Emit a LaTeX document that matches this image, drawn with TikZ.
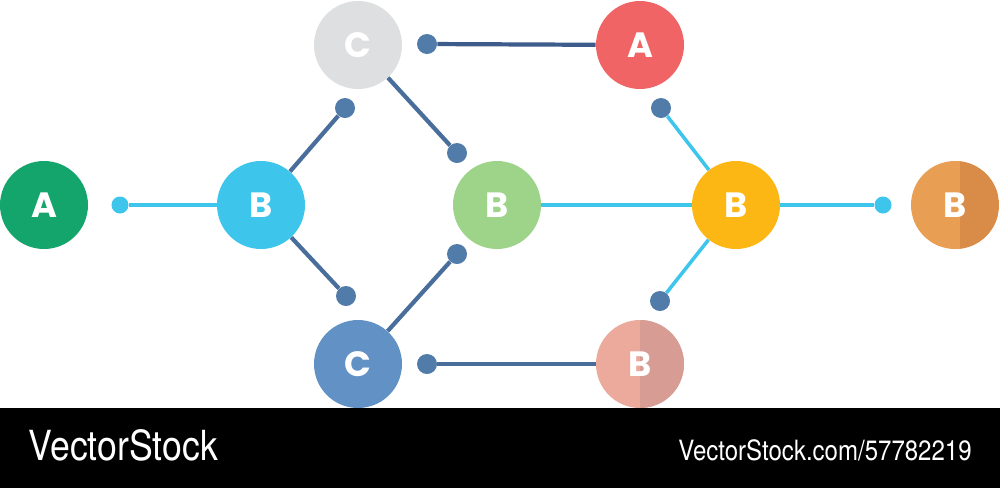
\documentclass[tikz,border=0pt]{standalone}
\usepackage{fontspec}
\newfontfamily\lettfont{Poppins}
\newfontfamily\bandfont[FakeStretch=0.86]{TeX Gyre Heros}
\definecolor{greenA}{HTML}{13A56C}
\definecolor{cyanB}{HTML}{3DC5EC}
\definecolor{greyC}{HTML}{DDDFE0}
\definecolor{greenB}{HTML}{9DD48A}
\definecolor{redA}{HTML}{F06466}
\definecolor{yellowB}{HTML}{FDB714}
\definecolor{orangeB}{HTML}{E89E53}
\definecolor{orangeD}{HTML}{D98B48}
\definecolor{blueC}{HTML}{6291C5}
\definecolor{pinkB}{HTML}{EBAA9C}
\definecolor{pinkD}{HTML}{D79D95}
\definecolor{darkline}{HTML}{4A6E9B}
\definecolor{topline}{HTML}{3D5C8C}
\definecolor{dotblue}{HTML}{517BA8}
\tikzset{
  ball/.style={circle, minimum size=1.76cm, inner sep=0pt, text=white,
    font=\lettfont\bfseries\fontsize{20}{20}\selectfont},
  dot/.style={circle, fill=#1, minimum size=0.4cm, inner sep=0pt},
  smalldot/.style={circle, fill=#1, minimum size=0.34cm, inner sep=0pt}
}
\begin{document}
\begin{tikzpicture}[x=0.02cm, y=-0.02cm]
  \useasboundingbox (0,0) rectangle (1000,488);
  \fill[white] (0,0) rectangle (1000,408);
  \fill[black] (0,408) rectangle (1000,488);
  % circles
  \node[ball, fill=greenA] (a1) at (44,205) {A};
  \node[ball, fill=cyanB] (b1) at (261,205) {B};
  \node[ball, fill=greyC] (c1) at (358,45) {C};
  \node[ball, fill=blueC] (c2) at (358,364) {C};
  \node[ball, fill=greenB] (b2) at (497,205) {B};
  \node[ball, fill=redA] (a2) at (640,45) {A};
  \node[ball, fill=yellowB] (b3) at (736,205) {B};
  \node[ball, fill=pinkB, path picture={\fill[pinkD] (path picture bounding box.north) rectangle (path picture bounding box.south east);}] (b4) at (640,364) {B};
  \node[ball, fill=orangeB, path picture={\fill[orangeD] ([xshift=3]path picture bounding box.north) rectangle (path picture bounding box.south east);}] (b5) at (955,205) {B};
  % dots
  \node[smalldot=cyanB] (d1) at (120,205) {};
  \node[dot=dotblue] (d2) at (345,108) {};
  \node[dot=dotblue] (d3) at (346,296) {};
  \node[dot=dotblue] (d4) at (457,153) {};
  \node[dot=dotblue] (d5) at (457,254) {};
  \node[dot=dotblue] (d6) at (427,44) {};
  \node[dot=dotblue] (d7) at (427,364) {};
  \node[dot=dotblue] (d8) at (661,108) {};
  \node[dot=dotblue] (d9) at (660,301) {};
  \node[smalldot=cyanB] (d10) at (883,205) {};
  % connectors
  \draw[cyanB, line width=2pt] (d1) -- (b1);
  \draw[darkline, line width=2.4pt] (b1) -- (d2);
  \draw[darkline, line width=2.4pt] (b1) -- (d3);
  \draw[darkline, line width=2.4pt] (c1) -- (d4);
  \draw[darkline, line width=2.4pt] (c2) -- (d5);
  \draw[topline, line width=2.4pt] (d6) -- (a2);
  \draw[darkline, line width=2.4pt] (d7) -- (b4);
  \draw[cyanB, line width=2pt] (b2) -- (b3);
  \draw[cyanB, line width=2pt] (b3) -- (d8);
  \draw[cyanB, line width=2pt] (b3) -- (d9);
  \draw[cyanB, line width=2pt] (b3) -- (d10);
  % band
  \node[anchor=base west, text=white, inner sep=0pt, font=\bandfont\fontsize{23.6}{24}\selectfont] (brand) at (28,460) {VectorStock};
  \node[anchor=base east, text=white, inner sep=0pt, font=\bandfont\fontsize{15.9}{16}\selectfont] (imgid) at (972,460) {VectorStock.com/57782219};
\end{tikzpicture}
\end{document}
